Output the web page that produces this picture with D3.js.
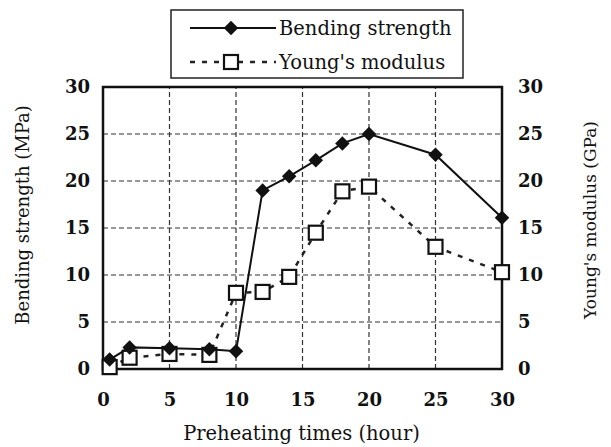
<!DOCTYPE html>
<html>
<head>
<meta charset="utf-8">
<script src="https://cdn.jsdelivr.net/npm/d3@7"></script>
<style>
  body { margin: 0; background: #fff; }
  text { font-family: "DejaVu Serif", "Liberation Serif", serif; fill: #111; }
</style>
</head>
<body>
<div id="chart"></div>
<script>
// preheating time (hour)
const hours = [0.5, 2, 5, 8, 10, 12, 14, 16, 18, 20, 25, 30];
const bendingStrength = [1.0, 2.3, 2.2, 2.1, 1.9, 19.0, 20.5, 22.2, 24.0, 25.0, 22.8, 16.1];
const youngsModulus = [0.2, 1.2, 1.6, 1.5, 8.1, 8.2, 9.8, 14.5, 18.9, 19.4, 13.0, 10.3];
const xTicks = [0, 5, 10, 15, 20, 25, 30];
const yTicks = [0, 5, 10, 15, 20, 25, 30];

const width = 611, height = 447;
const margin = {top: 87, right: 109, bottom: 78, left: 103};

const svg = d3.select("#chart").append("svg")
    .attr("width", width)
    .attr("height", height);

const x = d3.scaleLinear().domain([0, 30]).range([margin.left, width - margin.right]);
const yL = d3.scaleLinear().domain([0, 30]).range([height - margin.bottom, margin.top]);
const yR = d3.scaleLinear().domain([0, 30]).range([height - margin.bottom, margin.top]);

// grid
const grid = svg.append("g").attr("stroke", "#333").attr("stroke-width", 1.2).attr("stroke-dasharray", "5,3");
grid.selectAll(".gx").data(xTicks.slice(1, -1)).enter().append("line")
    .attr("x1", d => x(d)).attr("x2", d => x(d))
    .attr("y1", yL(0)).attr("y2", yL(30));
grid.selectAll(".gy").data(yTicks.slice(1, -1)).enter().append("line")
    .attr("x1", x(0)).attr("x2", x(30))
    .attr("y1", d => yL(d)).attr("y2", d => yL(d));

// axes (labels only, frame drawn separately)
const axisStyle = g => {
    g.select(".domain").remove();
    g.selectAll(".tick line").remove();
    g.selectAll("text").attr("font-size", 18).attr("font-weight", "bold")
        .attr("font-family", "'DejaVu Serif', serif").attr("fill", "#111");
};
svg.append("g").attr("transform", `translate(0,${yL(0)})`)
    .call(d3.axisBottom(x).tickValues(xTicks).tickSize(0).tickPadding(24))
    .call(axisStyle);
svg.append("g").attr("transform", `translate(${x(0)},0)`)
    .call(d3.axisLeft(yL).tickValues(yTicks).tickSize(0).tickPadding(13))
    .call(axisStyle);
svg.append("g").attr("transform", `translate(${x(30)},0)`)
    .call(d3.axisRight(yR).tickValues(yTicks).tickSize(0).tickPadding(16))
    .call(axisStyle);

// frame
svg.append("rect")
    .attr("x", x(0)).attr("y", yL(30))
    .attr("width", x(30) - x(0)).attr("height", yL(0) - yL(30))
    .attr("fill", "none").attr("stroke", "#111").attr("stroke-width", 2.5);

// Young's modulus
const ym = hours.map((h, i) => [h, youngsModulus[i]]);
svg.append("path").datum(ym)
    .attr("fill", "none").attr("stroke", "#222").attr("stroke-width", 2.5)
    .attr("stroke-dasharray", "5,7")
    .attr("d", d3.line().x(d => x(d[0])).y(d => yR(d[1])));
svg.selectAll(".sq").data(ym).enter().append("rect")
    .attr("x", d => x(d[0]) - 7).attr("y", d => yR(d[1]) - 7)
    .attr("width", 14).attr("height", 14)
    .attr("fill", "#fff").attr("stroke", "#111").attr("stroke-width", 2.2);

// Bending strength
const bs = hours.map((h, i) => [h, bendingStrength[i]]);
svg.append("path").datum(bs)
    .attr("fill", "none").attr("stroke", "#111").attr("stroke-width", 2)
    .attr("d", d3.line().x(d => x(d[0])).y(d => yL(d[1])));
const diamond = d3.symbol().type(d3.symbolSquare).size(105);
svg.selectAll(".dm").data(bs).enter().append("path")
    .attr("d", diamond)
    .attr("transform", d => `translate(${x(d[0])},${yL(d[1])}) rotate(45)`)
    .attr("fill", "#111");

// axis titles
svg.append("text").attr("x", (x(0) + x(30)) / 2 - 1).attr("y", 440)
    .attr("text-anchor", "middle").attr("font-size", 19.5)
    .text("Preheating times (hour)");
svg.append("text").attr("transform", `translate(29,215) rotate(-90)`)
    .attr("text-anchor", "middle").attr("font-size", 18)
    .text("Bending strength (MPa)");
svg.append("text").attr("transform", `translate(596,220) rotate(-90)`)
    .attr("text-anchor", "middle").attr("font-size", 17)
    .text("Young's modulus (GPa)");

// legend
const lg = svg.append("g");
lg.append("rect").attr("x", 171).attr("y", 10).attr("width", 292).attr("height", 68)
    .attr("fill", "#fff").attr("stroke", "#222").attr("stroke-width", 1.5);
lg.append("line").attr("x1", 190).attr("x2", 276).attr("y1", 28).attr("y2", 28)
    .attr("stroke", "#111").attr("stroke-width", 2);
lg.append("path").attr("d", diamond).attr("transform", "translate(231,28) rotate(45)").attr("fill", "#111");
lg.append("line").attr("x1", 190).attr("x2", 276).attr("y1", 62).attr("y2", 62)
    .attr("stroke", "#222").attr("stroke-width", 2.5).attr("stroke-dasharray", "5,7");
lg.append("rect").attr("x", 224).attr("y", 55).attr("width", 14).attr("height", 14)
    .attr("fill", "#fff").attr("stroke", "#111").attr("stroke-width", 2.2);
lg.append("text").attr("x", 279).attr("y", 35).attr("font-size", 19.5).text("Bending strength");
lg.append("text").attr("x", 279).attr("y", 69).attr("font-size", 19.5).text("Young's modulus");
</script>
</body>
</html>
